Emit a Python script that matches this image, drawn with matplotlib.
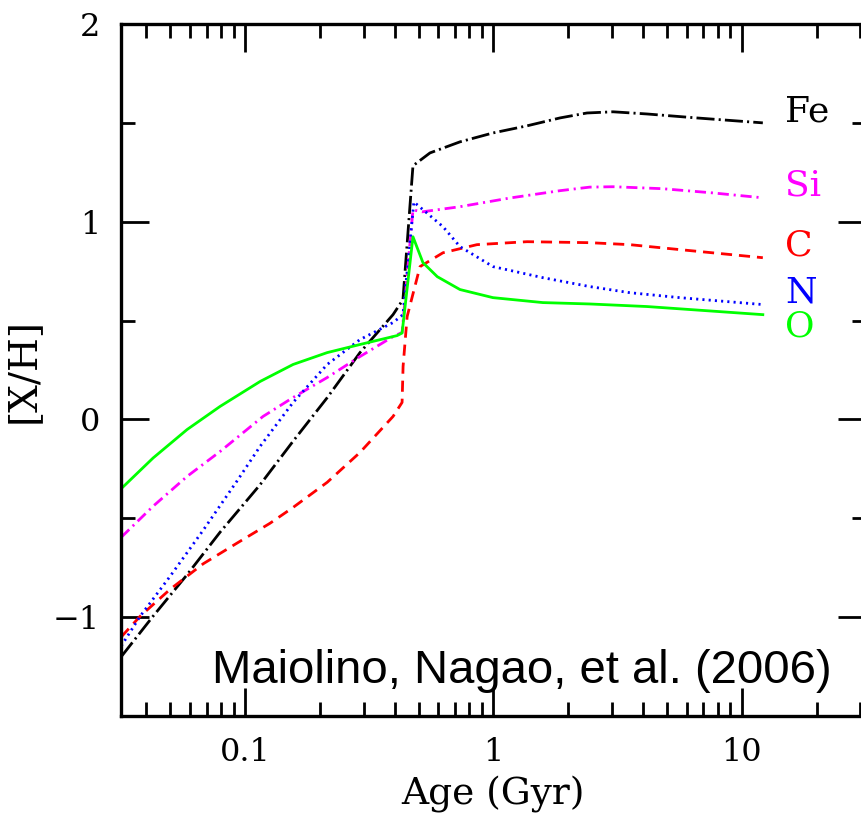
import numpy as np
import matplotlib
matplotlib.use("Agg")
import matplotlib.pyplot as plt
from matplotlib.ticker import FixedLocator, FixedFormatter, MultipleLocator

plt.rcParams['lines.scale_dashes'] = False

# age in Gyr, [X/H]
age_o = [0.0317, 0.0426, 0.0584, 0.0793, 0.1149, 0.156, 0.214, 0.290, 0.409, 0.4285,
         0.474, 0.52, 0.594, 0.733, 0.995, 1.58, 2.44, 4.15, 12.15]
oh = [-0.35, -0.195, -0.051, 0.066, 0.192, 0.278, 0.338, 0.379, 0.424, 0.437,
      0.924, 0.793, 0.722, 0.657, 0.616, 0.591, 0.584, 0.571, 0.53]

age_fe = [0.0317, 0.0426, 0.0584, 0.0793, 0.1149, 0.156, 0.214, 0.290, 0.394, 0.432,
          0.474, 0.555, 0.733, 0.995, 1.365, 1.853, 2.38, 3.03, 4.15, 6.57, 12.15]
feh = [-1.20, -0.995, -0.785, -0.57, -0.33, -0.11, 0.11, 0.338, 0.53, 0.606,
       1.283, 1.348, 1.404, 1.449, 1.485, 1.525, 1.55, 1.556, 1.545, 1.525, 1.50]

age_si = [0.0317, 0.0426, 0.0584, 0.0793, 0.118, 0.156, 0.214, 0.290, 0.394, 0.4285,
          0.474, 0.516, 0.733, 1.165, 1.853, 2.44, 3.03, 4.8, 7.6, 12.15]
sih = [-0.596, -0.439, -0.288, -0.162, 0.015, 0.111, 0.212, 0.318, 0.419, 0.44,
       1.06, 1.05, 1.076, 1.12, 1.157, 1.175, 1.177, 1.167, 1.146, 1.121]

age_n = [0.0317, 0.0378, 0.0499, 0.0678, 0.0929, 0.1149, 0.156, 0.214, 0.290, 0.394, 0.432,
         0.478, 0.626, 0.733, 0.995, 1.58, 2.44, 3.54, 5.62, 12.15]
nh = [-1.146, -0.995, -0.793, -0.56, -0.31, -0.136, 0.086, 0.278, 0.404, 0.49, 0.53,
      1.10, 0.975, 0.874, 0.773, 0.717, 0.672, 0.641, 0.616, 0.581]

age_c = [0.0317, 0.0378, 0.0499, 0.0678, 0.0929, 0.126, 0.156, 0.214, 0.290, 0.394, 0.4285,
         0.4325, 0.449, 0.506, 0.626, 0.858, 1.365, 2.44, 3.54, 5.62, 12.15]
ch = [-1.10, -0.995, -0.859, -0.73, -0.625, -0.525, -0.445, -0.318, -0.167, 0.015, 0.086,
      0.268, 0.52, 0.773, 0.843, 0.884, 0.899, 0.894, 0.884, 0.859, 0.818]

fig = plt.figure(figsize=(8.61, 8.14), dpi=100)
ax = fig.add_axes([0.1405, 0.1204, 0.8653, 0.8501])

lw = 2.0
ax.plot(age_fe, feh, color='black', lw=lw, linestyle=(0, (13, 3, 1.5, 3)))
ax.plot(age_si, sih, color='#ff00ff', lw=lw, linestyle=(0, (8, 3.5, 1.5, 3.5)))
ax.plot(age_c, ch, color='#ff0000', lw=lw, linestyle=(0, (8, 5)))
ax.plot(age_n, nh, color='#0000ff', lw=lw, linestyle=(0, (1.5, 3)))
ax.plot(age_o, oh, color='#00ff00', lw=lw, linestyle='-')

ax.set_xscale('log')
ax.set_xlim(10**-1.5, 10**1.5)
ax.set_ylim(-1.5, 2)

serif = 'DejaVu Serif'
ax.xaxis.set_major_locator(FixedLocator([0.1, 1, 10]))
ax.xaxis.set_major_formatter(FixedFormatter(['0.1', '1', '10']))
ax.xaxis.set_minor_locator(FixedLocator([m * 10.0**d for d in (-2, -1, 0, 1) for m in range(2, 10)]))
ax.xaxis.set_minor_formatter(FixedFormatter([]))
ax.yaxis.set_major_locator(FixedLocator([-1, 0, 1, 2]))
ax.yaxis.set_major_formatter(FixedFormatter(['\u22121', '0', '1', '2']))
ax.yaxis.set_minor_locator(MultipleLocator(0.5))

ax.tick_params(which='both', direction='in', top=True, right=True, width=2, labelsize=23)
ax.tick_params(which='major', length=20, pad=15)
ax.tick_params(which='minor', length=10)
for lab in ax.get_xticklabels() + ax.get_yticklabels():
    lab.set_family(serif)
for sp in ax.spines.values():
    sp.set_linewidth(2.4)

ax.set_xlabel('Age (Gyr)', family=serif, fontsize=27, labelpad=6)
ax.set_ylabel('[X/H]', family=serif, fontsize=28, labelpad=8)

names = ['Fe', 'Si', 'C', 'N', 'O']
name_colors = ['black', '#ff00ff', '#ff0000', '#0000ff', '#00ff00']
name_y = [1.556, 1.182, 0.879, 0.641, 0.470]
for nm, c, yy in zip(names, name_colors, name_y):
    ax.text(14.9, yy, nm, color=c, family=serif, fontsize=26, ha='left', va='center')

ax.text(0.5376, 0.0477, 'Maiolino, Nagao, et al. (2006)', transform=ax.transAxes,
        family='Liberation Sans', fontsize=34, ha='center', va='baseline')

fig.savefig('out.png', dpi=100)
